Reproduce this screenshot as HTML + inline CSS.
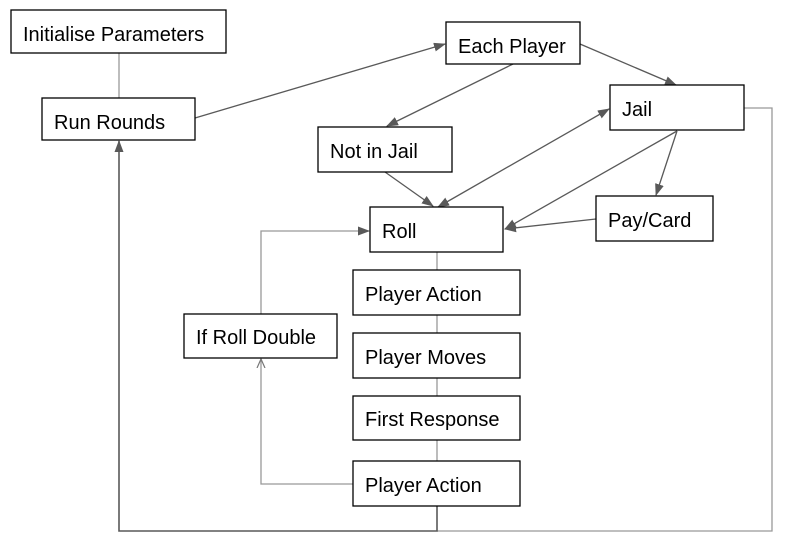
<!DOCTYPE html>
<html><head><meta charset="utf-8"><style>
html,body{margin:0;padding:0;background:#fff;}
svg{display:block;}
text{font-family:"Liberation Sans",Arial,sans-serif;font-size:20px;fill:#000;}
rect{fill:#fff;stroke:#000;stroke-width:1.3;}
</style></head><body>
<svg width="792" height="559" viewBox="0 0 792 559" xmlns="http://www.w3.org/2000/svg">
<defs>
<marker id="a" markerWidth="12" markerHeight="9" refX="11" refY="4.5" orient="auto" markerUnits="userSpaceOnUse">
<path d="M0,0 L12,4.5 L0,9 z" fill="#595959"/></marker>
<marker id="b" markerWidth="12" markerHeight="9" refX="1" refY="4.5" orient="auto" markerUnits="userSpaceOnUse">
<path d="M12,0 L0,4.5 L12,9 z" fill="#595959"/></marker>
<marker id="c" markerWidth="10" markerHeight="10" refX="9" refY="5" orient="auto" markerUnits="userSpaceOnUse">
<path d="M0,1 L9,5 L0,9" fill="none" stroke="#777" stroke-width="1.2"/></marker>
</defs>
<g fill="none" stroke-width="1.3">
<line x1="119" y1="53" x2="119" y2="98" stroke="#999"/>
<line x1="195" y1="118" x2="445" y2="44" stroke="#595959" marker-end="url(#a)"/>
<line x1="513" y1="64" x2="387" y2="126" stroke="#595959" marker-end="url(#a)"/>
<line x1="580" y1="44" x2="676" y2="85" stroke="#595959" marker-end="url(#a)"/>
<polyline points="744,108 772,108 772,531 437,531" stroke="#999"/>
<polyline points="437,506 437,531 119,531 119,141" stroke="#595959" stroke-width="1.6" marker-end="url(#a)"/>
<line x1="385" y1="172" x2="433" y2="206" stroke="#595959" marker-end="url(#a)"/>
<line x1="438" y1="207" x2="609" y2="109" stroke="#595959" marker-end="url(#a)" marker-start="url(#b)"/>
<line x1="677" y1="131" x2="505" y2="229" stroke="#595959" marker-end="url(#a)"/>
<line x1="677" y1="131" x2="656" y2="195" stroke="#595959" marker-end="url(#a)"/>
<line x1="596" y1="219" x2="505" y2="229" stroke="#595959" marker-end="url(#a)"/>
<line x1="437" y1="252" x2="437" y2="461" stroke="#999"/>
<polyline points="353,484 261,484 261,359" stroke="#999" marker-end="url(#c)"/>
<polyline points="261,314 261,231 369,231" stroke="#999" marker-end="url(#a)"/>
</g>
<rect x="11" y="10" width="215" height="43"/><text x="23" y="41">Initialise Parameters</text>
<rect x="42" y="98" width="153" height="42"/><text x="54" y="129">Run Rounds</text>
<rect x="446" y="22" width="134" height="42"/><text x="458" y="53">Each Player</text>
<rect x="610" y="85" width="134" height="45"/><text x="622" y="116">Jail</text>
<rect x="318" y="127" width="134" height="45"/><text x="330" y="158">Not in Jail</text>
<rect x="370" y="207" width="133" height="45"/><text x="382" y="238">Roll</text>
<rect x="596" y="196" width="117" height="45"/><text x="608" y="227">Pay/Card</text>
<rect x="353" y="270" width="167" height="45"/><text x="365" y="301">Player Action</text>
<rect x="353" y="333" width="167" height="45"/><text x="365" y="364">Player Moves</text>
<rect x="353" y="396" width="167" height="44"/><text x="365" y="426">First Response</text>
<rect x="353" y="461" width="167" height="45"/><text x="365" y="492">Player Action</text>
<rect x="184" y="314" width="153" height="44"/><text x="196" y="344">If Roll Double</text>
</svg>
</body></html>
